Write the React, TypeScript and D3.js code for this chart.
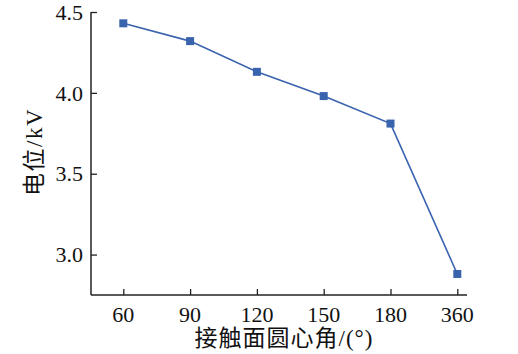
import React, { useEffect, useRef } from 'react';
import * as d3 from 'd3';

// 接触面圆心角 (°) vs 电位 (kV)
const angles = ['60', '90', '120', '150', '180', '360'];
const potentials = [4.43, 4.32, 4.13, 3.98, 3.81, 2.88];
const yTicks = [3.0, 3.5, 4.0, 4.5];

const W = 518;
const H = 354;

const App = () => {
  const svgRef = useRef<SVGSVGElement>(null);

  useEffect(() => {
    const svg = d3.select(svgRef.current);
    svg.selectAll('*').remove();

    const left = 91;
    const right = 467;
    const top = 12;
    const bottom = 295;
    const font = '"Liberation Serif", "Times New Roman", "Noto Sans CJK SC", serif';
    const color = '#3a63ae';

    const x = d3.scalePoint<string>()
      .domain(angles)
      .range([123.3, 457.3]);

    const y = d3.scaleLinear()
      .domain([2.75, 4.5])
      .range([bottom, top]);

    // 坐标轴
    svg.append('line')
      .attr('x1', left).attr('x2', left)
      .attr('y1', top).attr('y2', bottom)
      .attr('stroke', '#222').attr('stroke-width', 1.5);

    svg.append('line')
      .attr('x1', left).attr('x2', right)
      .attr('y1', bottom).attr('y2', bottom)
      .attr('stroke', '#222').attr('stroke-width', 1.5);

    const yAxis = svg.append('g')
      .attr('transform', `translate(${left},0)`)
      .call(d3.axisRight(y).tickValues(yTicks).tickSize(6).tickFormat(() => ''));
    yAxis.select('.domain').remove();
    yAxis.selectAll('line').attr('stroke', '#222').attr('stroke-width', 1.3);

    svg.append('g')
      .selectAll('text')
      .data(yTicks)
      .enter().append('text')
      .attr('x', left - 8)
      .attr('y', d => y(d))
      .attr('dy', '0.35em')
      .attr('text-anchor', 'end')
      .style('font-family', font)
      .style('font-size', '22px')
      .style('fill', '#111')
      .text(d => d.toFixed(1));

    const xAxis = svg.append('g')
      .attr('transform', `translate(0,${bottom})`)
      .call(d3.axisTop(x).tickSize(6).tickFormat(() => ''));
    xAxis.select('.domain').remove();
    xAxis.selectAll('line').attr('stroke', '#222').attr('stroke-width', 1.3);

    svg.append('g')
      .selectAll('text')
      .data(angles)
      .enter().append('text')
      .attr('x', d => x(d) as number)
      .attr('y', 321.5)
      .attr('text-anchor', 'middle')
      .style('font-family', font)
      .style('font-size', '22px')
      .style('fill', '#111')
      .text(d => d);

    // 轴标题
    svg.append('text')
      .attr('x', 284)
      .attr('y', 346)
      .attr('text-anchor', 'middle')
      .style('font-family', font)
      .style('font-size', '23px')
      .style('letter-spacing', '1px')
      .style('fill', '#111')
      .text('接触面圆心角/(°)');

    svg.append('text')
      .attr('transform', `translate(42,152) rotate(-90)`)
      .attr('text-anchor', 'middle')
      .style('font-family', font)
      .style('font-size', '23px')
      .style('letter-spacing', '1.5px')
      .style('fill', '#111')
      .text('电位/kV');

    // 折线
    const line = d3.line<number>()
      .x((_, i) => x(angles[i]) as number)
      .y(d => y(d));

    svg.append('path')
      .datum(potentials)
      .attr('fill', 'none')
      .attr('stroke', color)
      .attr('stroke-width', 1.6)
      .attr('d', line);

    svg.selectAll('.pt')
      .data(potentials)
      .enter().append('rect')
      .attr('class', 'pt')
      .attr('x', (_, i) => (x(angles[i]) as number) - 4)
      .attr('y', d => y(d) - 4)
      .attr('width', 8)
      .attr('height', 8)
      .attr('fill', color);
  }, []);

  return (
    <svg
      ref={svgRef}
      width={W}
      height={H}
      style={{ position: 'absolute', left: 0, top: 0, background: '#fff' }}
    />
  );
};

export default App;
